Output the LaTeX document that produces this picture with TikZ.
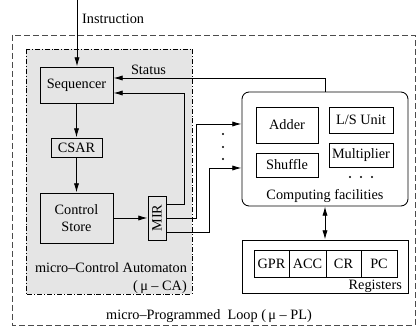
\documentclass[tikz,border=0pt]{standalone}
\usepackage{fontspec}
\setmainfont{Liberation Serif}
\usepackage{graphicx}
\usetikzlibrary{positioning,calc,arrows.meta}

\begin{document}
\begin{tikzpicture}[
    x=0.7pt, y=-0.7pt,
    line width=0.6pt,
    unit/.style={draw, inner sep=1pt},
    cell/.style={draw, outer sep=0pt, inner sep=1pt, minimum height=27*0.7pt},
    transition/.style={-{Latex[length=6.5pt,width=3.6pt]}},
    both/.style={{Latex[length=6.5pt,width=3.6pt]}-{Latex[length=6.5pt,width=3.6pt]}}
    ]
    \useasboundingbox (0,0) rectangle (417,327);
    % loop and automaton frames
    \draw[black!70, dash pattern=on 4.2pt off 2.1pt] (12,35) rectangle (415,325);
    \draw[fill=black!10, dash pattern=on 3.5pt off 1.4pt on 0.6pt off 1.4pt] (26,49) rectangle (192,294);

    \node[unit, minimum width=73*0.7pt, minimum height=36*0.7pt] (sequencer) at (76.5,85) {Sequencer};
    \node[unit, minimum width=51*0.7pt, minimum height=19*0.7pt] (csar) at (76.5,147.5) {CSAR};
    \node[unit, minimum width=73*0.7pt, minimum height=50*0.7pt, align=center] (store) at (76.5,218) {Control\\Store};
    \node[unit, minimum width=18*0.7pt, minimum height=44*0.7pt] (mir) at (157,218) {\rotatebox{90}{MIR}};

    \node[draw, rounded corners=5pt, minimum width=166*0.7pt, minimum height=114*0.7pt] (computing) at (325,149) {};
    \node[unit, minimum width=62*0.7pt, minimum height=36*0.7pt] (adder) at (287,125) {Adder};
    \node[unit, minimum width=64*0.7pt, minimum height=26*0.7pt] (lsunit) at (361,120) {L/S Unit};
    \node[unit, minimum width=62*0.7pt, minimum height=24*0.7pt] (shuffle) at (287,165) {Shuffle};
    \node[unit, minimum width=64*0.7pt, minimum height=24*0.7pt] (multiplier) at (361,155) {Multiplier};
    \node (complabel) at (325,196) {Computing facilities};
    \foreach \x in {350,361,372} \fill (\x,177) circle (0.75pt);

    \node[draw, minimum width=166*0.7pt, minimum height=53*0.7pt] (registers) at (325,266.5) {};
    \node[cell, minimum width=35*0.7pt] (gpr) at (271.5,263.5) {GPR};
    \node[cell, minimum width=37*0.7pt, right=0pt of gpr] (acc) {ACC};
    \node[cell, minimum width=35*0.7pt, right=0pt of acc] (cr) {CR};
    \node[cell, minimum width=36*0.7pt, right=0pt of cr] (pc) {PC};
    \node[anchor=east] (reglabel) at (407,286) {Registers};

    \coordinate (instr) at (77,0);
    \node[anchor=west] (instrlabel) at (77,19) {Instruction};
    \node (statuslabel) at (148.5,70) {Status};
    \node (calabel) at (111,268) {micro--Control Automaton};
    \node[anchor=east] (caname) at (192,287) {(\,μ -- CA)};
    \node (pllabel) at (209,316) {micro--Programmed\ \ Loop (\,μ -- PL)};

    \draw[transition] (instr) -- (instr |- sequencer.north);
    \draw[transition] (sequencer) -- (csar);
    \draw[transition] (csar) -- (store);
    \draw[transition] (store) -- (mir);
    \draw[transition] (computing.north) |- ([yshift=4.9pt]sequencer.east);
    \draw[transition] ([yshift=9.8pt]mir.east) -- ++(18,0) |- ([yshift=-5.6pt]sequencer.east);
    \draw[transition] (mir.east) -- ++(30,0) |- ([yshift=17.5pt]computing.west);
    \draw[transition] ([yshift=-9.8pt]mir.east) -- ++(43,0) |- ([yshift=-13.3pt]computing.west);
    \foreach \y in {134,147,159} \fill (223,\y) circle (0.75pt);
    \draw[both] (computing) -- (registers);
\end{tikzpicture}
\end{document}
